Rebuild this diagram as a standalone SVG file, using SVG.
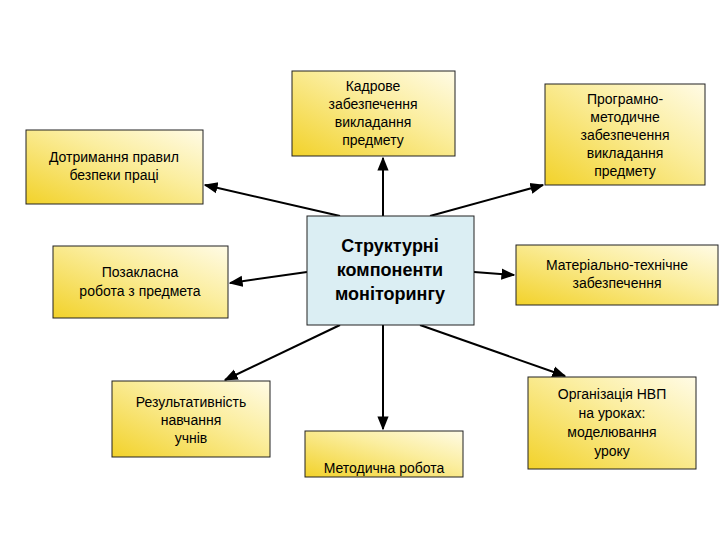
<svg xmlns="http://www.w3.org/2000/svg" width="720" height="540" viewBox="0 0 720 540">
<defs>
<linearGradient id="y" x1="0" y1="1" x2="1" y2="0">
<stop offset="0" stop-color="#f2d22a"/><stop offset="0.6" stop-color="#fbeea0"/><stop offset="1" stop-color="#fffbe6"/>
</linearGradient>
<marker id="a" viewBox="0 0 10 10" refX="9" refY="5" markerWidth="7" markerHeight="7" orient="auto"><path d="M0,1L10,5L0,9z" fill="#000"/></marker>
<style>
.b{fill:url(#y);stroke:#222;stroke-width:1}
.t{font-family:"Liberation Sans",Arial,sans-serif;font-size:14px;text-anchor:middle;fill:#000}
.c{stroke:#000;stroke-width:2;fill:none;marker-end:url(#a)}
</style>
</defs>
<rect width="720" height="540" fill="#fff"/>
<g id="connectors">
<line class="c" x1="383" y1="216" x2="383" y2="158"/>
<line class="c" x1="340" y1="216" x2="205" y2="185"/>
<line class="c" x1="430" y1="216" x2="543" y2="185"/>
<line class="c" x1="307" y1="272" x2="230" y2="283"/>
<line class="c" x1="474" y1="272" x2="514" y2="275"/>
<line class="c" x1="340" y1="325" x2="225" y2="380"/>
<line class="c" x1="383" y1="325" x2="383" y2="429"/>
<line class="c" x1="420" y1="325" x2="565" y2="376"/>
</g>
<g id="center"><rect x="307" y="216" width="167" height="109" fill="#dbeef3" stroke="#222"/>
<text class="t" style="font-size:18px;font-weight:bold" x="390" y="252">Структурні</text>
<text class="t" style="font-size:18px;font-weight:bold" x="390" y="276">компоненти</text>
<text class="t" style="font-size:18px;font-weight:bold" x="390" y="300">моніторингу</text></g>
<g id="kadrove"><rect class="b" x="292" y="71" width="163" height="85"/>
<text class="t" x="373" y="91">Кадрове</text><text class="t" x="373" y="109">забезпечення</text><text class="t" x="373" y="127">викладання</text><text class="t" x="373" y="145">предмету</text></g>
<g id="dotrymannia"><rect class="b" x="26" y="130" width="177" height="74"/>
<text class="t" x="114" y="162">Дотримання правил</text><text class="t" x="114" y="180">безпеки праці</text></g>
<g id="prohramno"><rect class="b" x="545" y="84" width="160" height="101"/>
<text class="t" x="625" y="104">Програмно-</text><text class="t" x="625" y="122">методичне</text><text class="t" x="625" y="140">забезпечення</text><text class="t" x="625" y="158">викладання</text><text class="t" x="625" y="176">предмету</text></g>
<g id="pozaklasna"><rect class="b" x="53" y="246" width="175" height="72"/>
<text class="t" x="140" y="277">Позакласна</text><text class="t" x="140" y="296">робота з предмета</text></g>
<g id="materialno"><rect class="b" x="516" y="245" width="202" height="60"/>
<text class="t" x="617" y="270">Матеріально-технічне</text><text class="t" x="617" y="288">забезпечення</text></g>
<g id="rezultatyvnist"><rect class="b" x="112" y="381" width="158" height="76"/>
<text class="t" x="191" y="407">Результативність</text><text class="t" x="191" y="425">навчання</text><text class="t" x="191" y="443">учнів</text></g>
<g id="metodychna"><rect class="b" x="305" y="431" width="158" height="46"/>
<text class="t" x="384" y="473">Методична робота</text></g>
<g id="orhanizatsiia"><rect class="b" x="528" y="377" width="168" height="92"/>
<text class="t" x="612" y="399">Організація НВП</text><text class="t" x="612" y="418">на уроках:</text><text class="t" x="612" y="437">моделювання</text><text class="t" x="612" y="456">уроку</text></g>
</svg>
